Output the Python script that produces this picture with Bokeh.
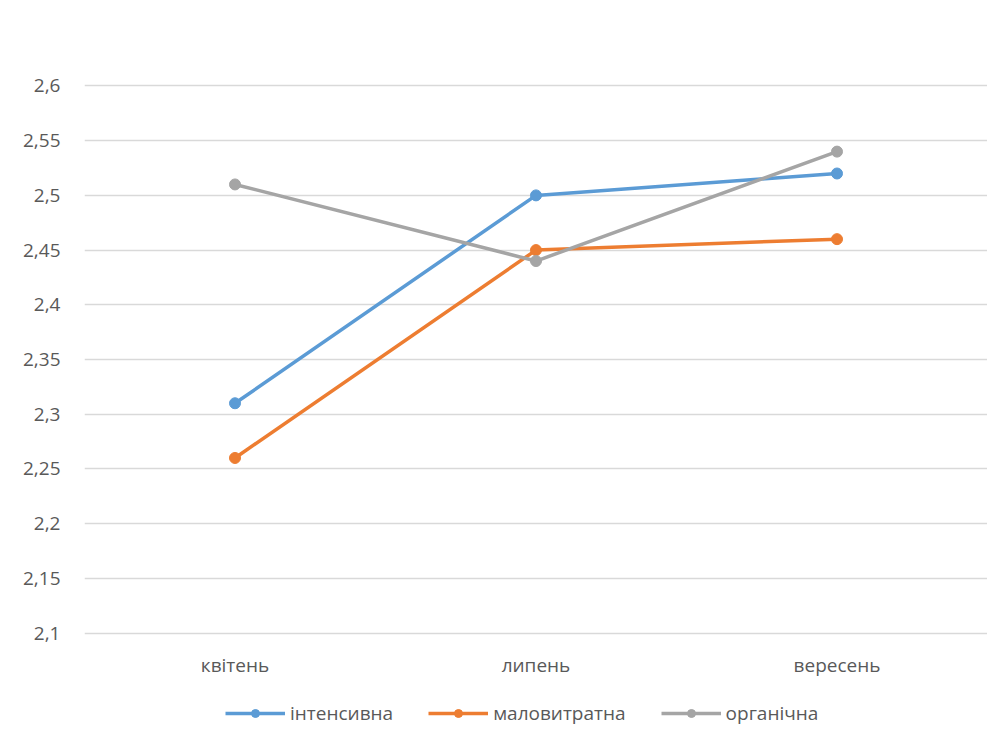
from bokeh.plotting import figure
from bokeh.layouts import column
from bokeh.models import (FactorRange, Range1d, FixedTicker, CustomJSTickFormatter,
                          Legend, LegendItem)
from bokeh.embed import file_html
from bokeh.resources import INLINE

# Measurement months and the three farming systems
months = ["квітень", "липень", "вересень"]
intensive = [2.31, 2.50, 2.52]
low_input = [2.26, 2.45, 2.46]
organic = [2.51, 2.44, 2.54]
series_names = ["інтенсивна", "маловитратна", "органічна"]
series_colors = ["#5B9BD5", "#ED7D31", "#A5A5A5"]
y_ticks = [2.1, 2.15, 2.2, 2.25, 2.3, 2.35, 2.4, 2.45, 2.5, 2.55, 2.6]
series_values = [intensive, low_input, organic]

FONT = "Open Sans"
TEXT_COLOR = "#595959"
FONT_SIZE = "19px"

p = figure(width=987, height=695,
           x_range=FactorRange(*months, range_padding=0),
           y_range=Range1d(2.095, 2.605),
           output_backend="svg", toolbar_location=None,
           min_border_left=84, min_border_right=0,
           min_border_top=80, min_border_bottom=57)

p.outline_line_color = None
p.background_fill_color = "white"
p.border_fill_color = "white"

# value axis
p.yaxis.ticker = FixedTicker(ticks=y_ticks)
p.yaxis.formatter = CustomJSTickFormatter(
    code="return (Math.round(tick * 100) / 100).toString().replace('.', ',');")
p.yaxis.axis_line_color = None
p.yaxis.major_tick_line_color = None
p.yaxis.minor_tick_line_color = None
p.yaxis.major_tick_out = 0
p.yaxis.major_tick_in = 0
p.yaxis.major_label_standoff = 24
p.yaxis.major_label_text_font = FONT
p.yaxis.major_label_text_font_size = FONT_SIZE
p.yaxis.major_label_text_color = TEXT_COLOR

# category axis
p.xaxis.axis_line_color = None
p.xaxis.major_tick_line_color = None
p.xaxis.minor_tick_line_color = None
p.xaxis.major_tick_out = 0
p.xaxis.major_tick_in = 0
p.xaxis.major_label_standoff = 13
p.xaxis.major_label_text_font = FONT
p.xaxis.major_label_text_font_size = FONT_SIZE
p.xaxis.major_label_text_color = TEXT_COLOR

p.xgrid.grid_line_color = None
p.ygrid.grid_line_color = "#D9D9D9"
p.ygrid.grid_line_width = 1.5

for vals, color in zip(series_values, series_colors):
    p.line(months, vals, line_color=color, line_width=3.5)
    p.scatter(months, vals, marker="circle", size=11,
              fill_color=color, line_color=color)

# legend strip under the chart; its series sit outside the strip's y range,
# so only the legend entries are visible
lg = figure(width=987, height=38,
            x_range=FactorRange(*months, range_padding=0),
            y_range=Range1d(0, 1),
            x_axis_type=None, y_axis_type=None,
            output_backend="svg", toolbar_location=None,
            min_border=0)
lg.outline_line_color = None
lg.grid.grid_line_color = None
lg.border_fill_color = "white"

items = []
for name, vals, color in zip(series_names, series_values, series_colors):
    ln = lg.line(months, vals, line_color=color, line_width=3.5)
    sc = lg.scatter(months, vals, marker="circle", size=10,
                    fill_color=color, line_color=color)
    items.append(LegendItem(label=name, renderers=[ln, sc]))

legend = Legend(items=items, orientation="horizontal", location=(141, 7),
                border_line_color=None, background_fill_alpha=0,
                label_text_font=FONT, label_text_font_size=FONT_SIZE,
                label_text_color=TEXT_COLOR, glyph_width=60, glyph_height=20,
                label_standoff=5, spacing=35, padding=0, margin=0)
lg.add_layout(legend)

open("out.html", "w").write(file_html(column(p, lg, spacing=0), INLINE))
